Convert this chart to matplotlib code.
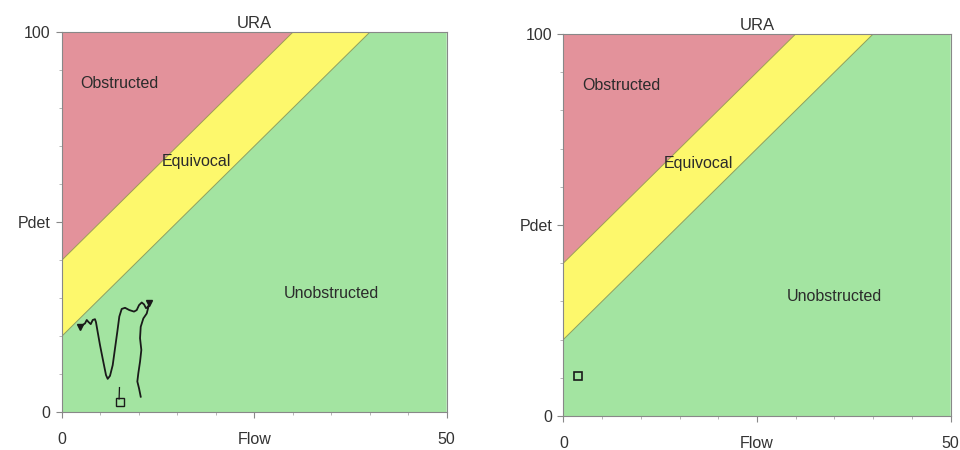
import matplotlib.pyplot as plt

plt.rcParams['font.family'] = ['Liberation Sans', 'DejaVu Sans']

# ICS / URA nomogram boundaries (flow, pdet end points)
obs_flow = [0, 30]
obs_pdet = [40, 100]
unobs_flow = [0, 40]
unobs_pdet = [20, 100]

# pressure-flow trace on the left plot
trace_flow = [2.38, 3.03, 3.25, 3.46, 3.77, 4.03, 4.32, 4.45, 4.62, 4.97, 5.4, 5.75, 5.97,
              6.27, 6.62, 6.92, 7.22, 7.48, 7.79, 8.22, 8.78, 9.39, 9.74, 10.04, 10.39,
              10.69, 10.95, 11.25, 11.38, 11.04, 10.6, 10.26, 10.17, 10.34, 10.17, 9.95,
              9.82, 10.04, 10.26]
trace_pdet = [22.5, 23.4, 24.3, 23.8, 23.2, 24.3, 24.5, 23.7, 21.7, 17.7, 13.3, 9.8, 8.8,
              9.6, 12.4, 16.8, 21.2, 25.2, 27.2, 27.5, 26.9, 26.5, 26.9, 28.2, 28.9,
              28.4, 27.4, 27.8, 28.7, 26.0, 24.7, 22.5, 19.5, 16.4, 13.3, 10.3,
              8.1, 6.3, 4.1]

# Qmax / Pdet point on each plot
left_point = (7.57, 2.6)
left_stick_flow = [7.45, 7.5]
left_stick_pdet = [3.5, 6.5]
right_point = (1.94, 10.5)

region_labels = ['Obstructed', 'Equivocal', 'Unobstructed']
label_flow = [7.5, 17.5, 35.0]
label_pdet = [86.5, 66.0, 31.3]

red = '#e3929b'
yellow = '#fdf86c'
green = '#a3e4a1'
textc = '#2b2b2b'


def nomogram(ax):
    # obstructed zone
    ax.fill([0, obs_flow[0], obs_flow[1], 0], [100, obs_pdet[0], obs_pdet[1], 100],
            color=red, lw=0)
    # equivocal band
    ax.fill([obs_flow[0], obs_flow[1], unobs_flow[1], unobs_flow[0]],
            [obs_pdet[0], obs_pdet[1], unobs_pdet[1], unobs_pdet[0]], color=yellow, lw=0)
    # unobstructed zone
    ax.fill([unobs_flow[0], unobs_flow[1], 50, 50, 0], [unobs_pdet[0], unobs_pdet[1], 100, 0, 0],
            color=green, lw=0)
    ax.plot(obs_flow, obs_pdet, color='#9c9a55', lw=0.7)
    ax.plot(unobs_flow, unobs_pdet, color='#8fa05a', lw=0.7)

    for t, fx, py in zip(region_labels, label_flow, label_pdet):
        ax.text(fx, py, t, ha='center', va='center', fontsize=11.5, color=textc)

    ax.set_xlim(0, 50)
    ax.set_ylim(0, 100)
    ax.set_xticks([0, 25, 50])
    ax.set_xticklabels(['0', 'Flow', '50'])
    ax.set_xticks(range(0, 51, 5), minor=True)
    ax.set_yticks([0, 50, 100])
    ax.set_yticklabels(['0', 'Pdet', '100'])
    ax.set_yticks(range(0, 101, 10), minor=True)
    ax.tick_params(which='major', length=4.5, width=0.8, color='#888888',
                   labelsize=11.5, labelcolor='#333333')
    ax.tick_params(axis='x', which='major', pad=10)
    ax.tick_params(which='minor', length=2.5, width=0.6, color='#aaaaaa')
    for s in ax.spines.values():
        s.set_color('#888888')
        s.set_linewidth(0.8)
    ax.set_title('URA', fontsize=12, color='#333333', pad=3)


fig = plt.figure(figsize=(9.6, 4.5), dpi=100)
ax1 = fig.add_axes([0.0643, 0.0838, 0.401, 0.8444])
ax2 = fig.add_axes([0.5868, 0.0756, 0.4035, 0.849])

nomogram(ax1)
ax1.plot(trace_flow, trace_pdet, color='#1a1a1a', lw=1.3)
ax1.plot(trace_flow[0], trace_pdet[0], marker='v', color='#1a1a1a', ms=4)
ax1.plot(trace_flow[28], trace_pdet[28], marker='v', color='#1a1a1a', ms=4)
ax1.plot(left_stick_flow, left_stick_pdet, color='#1a1a1a', lw=0.9)
ax1.plot(*left_point, marker='s', mfc='none', mec='#1a1a1a', ms=6, mew=1.0)

nomogram(ax2)
ax2.plot(*right_point, marker='s', mfc='none', mec='#1a1a1a', ms=6, mew=1.2)

fig.savefig('out.png', dpi=100)
